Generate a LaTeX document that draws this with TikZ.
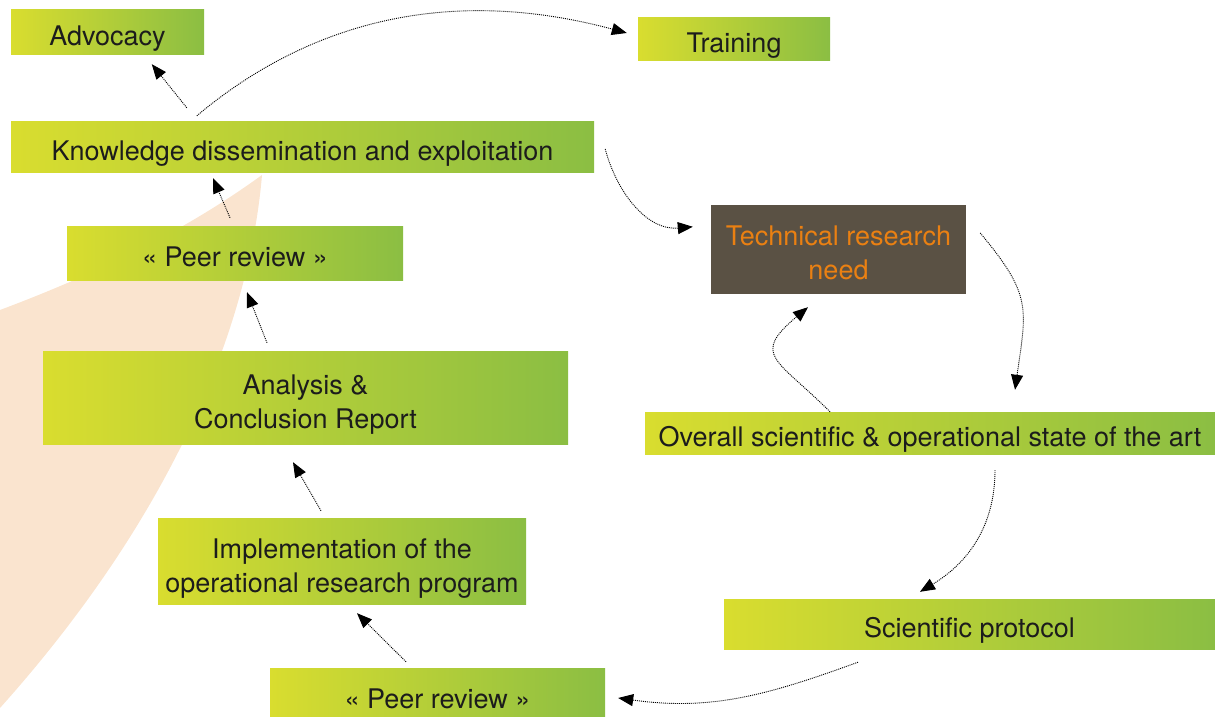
\documentclass[tikz,border=0pt]{standalone}
\usepackage{fontspec}
\setmainfont{TeX Gyre Heros}
\usetikzlibrary{arrows.meta}
\definecolor{boxyellow}{RGB}{217,221,47}
\definecolor{boxgreen}{RGB}{139,190,67}
\definecolor{needbrown}{RGB}{90,81,68}
\definecolor{needorange}{RGB}{234,128,18}
\definecolor{peach}{RGB}{250,228,207}
\definecolor{inktext}{RGB}{28,28,28}

\begin{document}
\begin{tikzpicture}[x=1pt,y=1pt,
  stage/.style={left color=boxyellow,right color=boxgreen,inner sep=0pt,
    align=center,text=inktext,text height=26pt,text depth=0pt},
  twoline/.style={text height=61pt,text depth=0pt},
  needbox/.style={fill=needbrown,inner sep=0pt,align=center,text=needorange},
  flow/.style={dash pattern=on 1pt off 1pt,line width=0.9pt,
    -{Triangle[length=15pt,width=12pt]}}]

  \fontsize{27}{34}\selectfont

  \useasboundingbox (0,0) rectangle (1215,717);
  \clip (0,0) rectangle (1215,717);

  %% background wedge
  \fill[peach] (0,407) .. controls (120,452) and (200,497) .. (262,542)
    .. controls (250,400) and (180,210) .. (0,9) -- cycle;

  %% left column
  \node[stage,minimum width=193pt,minimum height=45pt] (advoc) at (107.5,684.5) {Advocacy};
  \node[stage,minimum width=583pt,minimum height=51pt] (knowl) at (302.5,569.5) {Knowledge dissemination and exploitation};
  \node[stage,minimum width=336pt,minimum height=54pt] (peer1) at (235,463) {« Peer review »};
  \node[stage,twoline,minimum width=525pt,minimum height=93pt] (anal) at (305.5,318.5) {Analysis \&\\Conclusion Report};
  \node[stage,twoline,minimum width=368pt,minimum height=86pt] (impl) at (342,155) {Implementation of the\\operational research program};
  \node[stage,minimum width=335pt,minimum height=54pt] (peer2) at (437.5,21) {« Peer review »};

  %% right column
  \node[stage,minimum width=192pt,minimum height=43pt] (train) at (734,677.5) {Training};
  \node[needbox,twoline,minimum width=255pt,minimum height=89pt] (tech) at (838.5,467.5) {Technical research\\need};
  \node[stage,minimum width=570pt,minimum height=42pt] (overall) at (930,283) {Overall scientific \& operational state of the art};
  \node[stage,minimum width=491pt,minimum height=50pt] (sciprot) at (969.5,92) {Scientific protocol};

  %% connectors
  \draw[flow] ([xshift=176pt,yshift=14pt]knowl.north west) -- ([xshift=141pt,yshift=-9pt]advoc.south west);
  \draw[flow] ([xshift=186pt,yshift=6pt]knowl.north west) .. controls +(40:130pt) and +(165:200pt) .. ([xshift=-11pt,yshift=6.5pt]train.west);
  \draw[flow] ([xshift=11pt,yshift=-1.5pt]knowl.east) to[out=-75,in=185] ([xshift=-18pt,yshift=-22pt]tech.north west);
  \draw[flow] ([xshift=14pt,yshift=16.5pt]tech.east) to[out=-50,in=82,looseness=1.3] ([xshift=85pt,yshift=23pt]overall.north);
  \draw[flow] ([xshift=-100pt,yshift=1pt]overall.north) to[out=135,in=-140,looseness=1.8] ([xshift=-30.5pt,yshift=-13pt]tech.south);
  \draw[flow] ([xshift=65pt,yshift=-15pt]overall.south) to[out=-90,in=31] ([xshift=-49.5pt,yshift=8pt]sciprot.north);
  \draw[flow] ([xshift=-111.5pt,yshift=-12pt]sciprot.south) to[out=200,in=-8] ([xshift=13pt,yshift=-2pt]peer2.east);
  \draw[flow] ([xshift=-31.5pt,yshift=7pt]peer2.north) -- ([xshift=15pt,yshift=-8pt]impl.south);
  \draw[flow] ([xshift=-21pt,yshift=8pt]impl.north) -- ([xshift=-12.5pt,yshift=-17pt]anal.south);
  \draw[flow] ([xshift=-38.5pt,yshift=9pt]anal.north) -- ([xshift=12pt,yshift=-11pt]peer1.south);
  \draw[flow] ([xshift=-5pt,yshift=9pt]peer1.north) -- ([xshift=-89.5pt,yshift=-5pt]knowl.south);
\end{tikzpicture}
\end{document}
